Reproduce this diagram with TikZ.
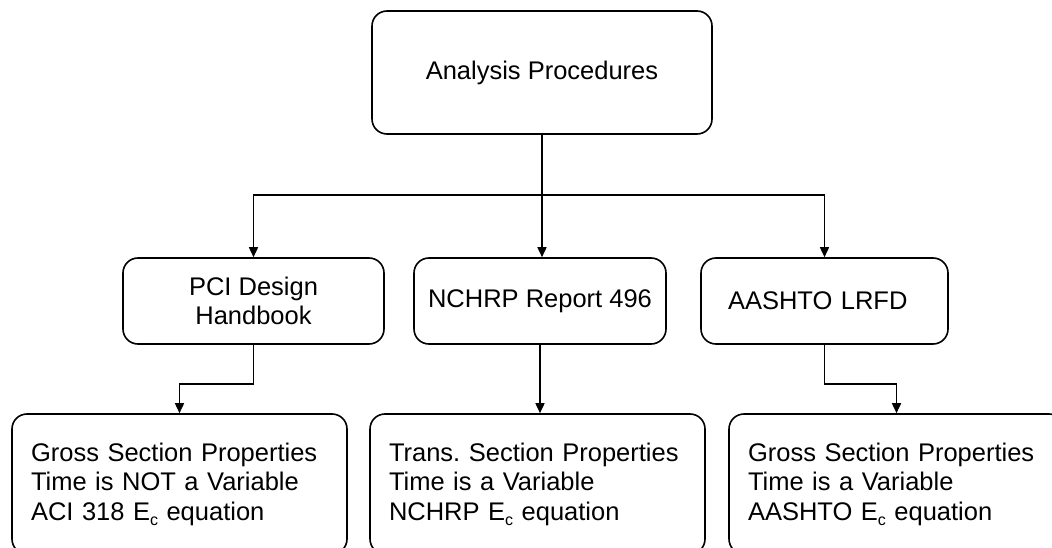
\documentclass[tikz,border=0pt]{standalone}
\usepackage{fontspec}
\setmainfont{Liberation Sans}
\usetikzlibrary{arrows.meta,positioning}
\newcommand{\Ecsub}{E\raisebox{-5pt}{\fontsize{16}{16}\selectfont c}}

\begin{document}
\begin{tikzpicture}[
        x=1pt, y=-1pt,
        proc node/.style={rectangle, rounded corners=15pt, draw, line width=1.6pt,
          inner sep=0pt, font=\fontsize{25.5}{29.5}\selectfont\frenchspacing},
        link/.style={line width=1.6pt, -{Triangle[length=10pt,width=9pt]}}
      ]
      \useasboundingbox (0,0) rectangle (1052,548);
      % Nodes
      \node[proc node, minimum width=340pt, minimum height=123pt] (AP) at (542,72.5) {Analysis Procedures};
      \node[proc node, minimum width=261pt, minimum height=86pt, align=center] (PCI) at (253.5,301) {PCI Design\\Handbook};
      \node[proc node, minimum width=252pt, minimum height=86pt] (NCHRP) at (540,301) {NCHRP Report 496};
      \node[proc node, minimum width=247pt, minimum height=86pt, text width=193pt, align=left] (LRFD) at (824.5,301) {AASHTO LRFD};
      \node[proc node, minimum width=335pt, minimum height=140pt, text width=297pt, align=left] (PCIeq) at (179.5,484)
        {Gross Section Properties\\Time is NOT a Variable\\ACI 318 \Ecsub{} equation};
      \node[proc node, minimum width=335pt, minimum height=140pt, text width=297pt, align=left] (NCHRPeq) at (537.5,484)
        {Trans. Section Properties\\Time is a Variable\\NCHRP \Ecsub{} equation};
      \node[proc node, minimum width=335pt, minimum height=140pt, text width=297pt, align=left] (LRFDeq) at (896.5,484)
        {Gross Section Properties\\Time is a Variable\\AASHTO \Ecsub{} equation};
      \coordinate (split) at (542,195);

      % Edges
      \draw[line width=1.6pt] (AP.south) -- (split);
      \draw[link] (split) -| (PCI.north);
      \draw[link] (split) -- (split |- NCHRP.north);
      \draw[link] (split) -| (LRFD.north);
      \draw[link] (PCI.south) -- ++(0,39) -| (PCIeq.north);
      \draw[link] (NCHRP.south) -- (NCHRPeq.north -| NCHRP.south);
      \draw[link] (LRFD.south) -- ++(0,39) -| (LRFDeq.north);
    \end{tikzpicture}
\end{document}
